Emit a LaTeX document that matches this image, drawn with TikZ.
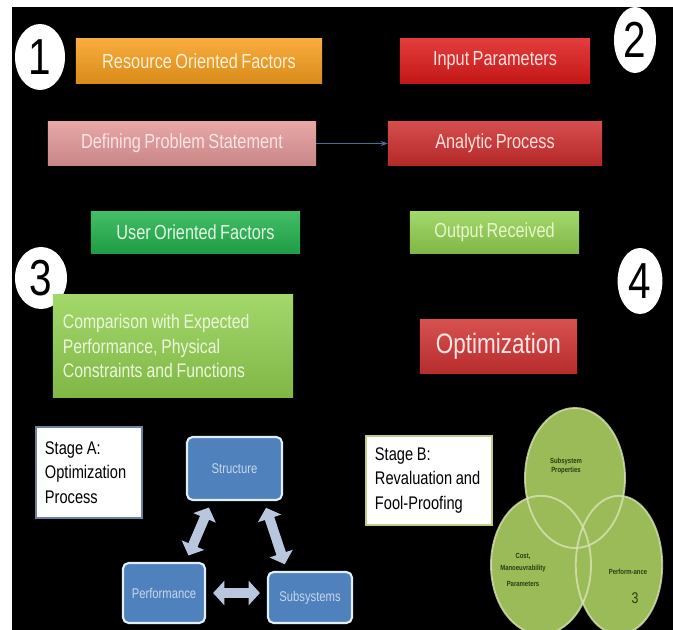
\documentclass[tikz,border=0pt]{standalone}
\usepackage{fontspec}
\setmainfont{Liberation Sans}
\newfontfamily\narrowfont[FakeStretch=0.8,WordSpace=0.75]{Liberation Sans}
\usetikzlibrary{shapes.geometric,arrows.meta}

\newcommand{\tightspace}{\spaceskip=0.2em plus 0.05em\relax}

\definecolor{resorange}{RGB}{246,158,28}
\definecolor{inred}{RGB}{222,26,26}
\definecolor{anared}{RGB}{206,46,46}
\definecolor{defpink}{RGB}{228,152,152}
\definecolor{usergreen}{RGB}{34,178,76}
\definecolor{litegreen}{RGB}{146,208,80}
\definecolor{optred}{RGB}{208,50,50}
\definecolor{boxblue}{RGB}{79,129,189}
\definecolor{boxedge}{RGB}{225,238,248}
\definecolor{boxtext}{RGB}{200,215,235}
\definecolor{arrowgray}{RGB}{184,198,222}
\definecolor{venngreen}{RGB}{155,187,89}
\definecolor{vennedge}{RGB}{215,228,180}
\definecolor{venntext}{RGB}{40,60,15}
\definecolor{linkblue}{RGB}{70,110,160}
\definecolor{stageaedge}{RGB}{110,130,160}
\definecolor{stagebedge}{RGB}{190,205,140}

\begin{document}
\begin{tikzpicture}[x=0.025cm,y=-0.025cm,
  colbar/.style={rectangle,inner sep=0pt,top color=#1!85!white,bottom color=#1!88!black,
    font=\narrowfont\fontsize{14.5}{17.5}\selectfont},
  numcirc/.style={ellipse,fill=white,inner sep=0pt,minimum height=1.65cm,
    font=\narrowfont\fontsize{36}{36}\selectfont},
  stagebox/.style={rectangle,fill=white,line width=1.5pt,align=left,inner ysep=0pt,
    inner xsep=0.225cm,font=\narrowfont\fontsize{13}{17.5}\selectfont},
  bluebox/.style={rectangle,rounded corners=4pt,fill=boxblue,draw=boxedge,line width=1.5pt,
    text=boxtext,font=\narrowfont\fontsize{10}{12}\selectfont},
  dblarrow/.style={arrowgray,line width=7pt,
    {Triangle[width=17pt,length=8pt]}-{Triangle[width=17pt,length=8pt]},
    shorten <=5pt,shorten >=5pt},
  vennlbl/.style={text=venntext,align=center,inner sep=0pt,
    font=\narrowfont\bfseries\fontsize{5.3}{6.3}\selectfont}]
  \useasboundingbox (0,0) rectangle (673,630);
  \fill[white] (0,0) rectangle (673,630);
  \fill[black] (12,7) rectangle (673,630);
  \clip (12,7) rectangle (673,630);

  \node[numcirc,minimum width=1.25cm] (one) at (40,57) {1};
  \node[numcirc,minimum width=1.05cm] (two) at (635,40) {2};
  \node[numcirc,minimum width=1.3cm,minimum height=1.55cm] (three) at (41,278) {3};
  \node[numcirc,minimum width=1.12cm] (four) at (640,281) {4};

  \node[colbar=resorange,text={rgb,255:red,255;green,240;blue,215},
    minimum width=6.15cm,minimum height=1.1cm] (resfac) at (199,61) {Resource Oriented Factors};
  \node[colbar=inred,text={rgb,255:red,255;green,225;blue,225},
    minimum width=4.75cm,minimum height=1.1cm] (inpar) at (495,61) {Input Parameters};

  \node[colbar=defpink,text={rgb,255:red,250;green,228;blue,228},
    minimum width=6.7cm,minimum height=1.075cm] (defprob) at (182,143.5) {Defining Problem Statement};
  \node[colbar=anared,text={rgb,255:red,255;green,225;blue,220},
    minimum width=5.35cm,minimum height=1.075cm] (anaproc) at (495,143.5) {Analytic Process};
  \draw[linkblue,line width=0.8pt,-{Stealth[length=5pt]}] (defprob) -- (anaproc);

  \node[colbar=usergreen,text={rgb,255:red,228;green,246;blue,228},
    minimum width=5.225cm,minimum height=1.025cm] (userfac) at (195.5,232.5) {User Oriented Factors};
  \node[colbar=litegreen,text={rgb,255:red,232;green,246;blue,205},
    minimum width=4.225cm,minimum height=1.025cm] (outrec) at (494.5,232.5) {Output Received};

  \node[colbar=litegreen,text={rgb,255:red,236;green,248;blue,218},align=left,text width=5.5cm,
    inner xsep=0.25cm,minimum height=2.55cm,font=\narrowfont\fontsize{14}{17.5}\selectfont]
    (compar) at (173,346) {\tightspace Comparison with Expected\\Performance, Physical\\Constraints and Functions};
  \node[colbar=optred,text={rgb,255:red,255;green,230;blue,230},
    minimum width=3.925cm,minimum height=1.325cm,font=\narrowfont\fontsize{20}{24}\selectfont]
    (optim) at (498.5,346.5) {Optimization};

  \node[stagebox,draw=stageaedge,text width=2.2cm,minimum height=2.275cm]
    (stagea) at (89,472.5) {\tightspace Stage A:\\Optimization\\Process};
  \node[bluebox,minimum width=2.375cm,minimum height=1.575cm] (struct) at (234.5,468.5) {Structure};
  \node[bluebox,minimum width=2.05cm,minimum height=1.5cm] (perf) at (164,593) {Performance};
  \node[bluebox,minimum width=2.1cm,minimum height=1.275cm] (subs) at (310,597.5) {Subsystems};
  \draw[dblarrow] (struct.-125) -- (perf.55);
  \draw[dblarrow] (struct.-48) -- (subs.131);
  \draw[dblarrow] (perf.east) -- (perf.east -| subs.west);

  \node[stagebox,draw=stagebedge,line width=2pt,text width=2.7cm,minimum height=2.225cm]
    (stageb) at (429,480.5) {\tightspace Stage B:\\Revaluation and\\Fool-Proofing};

  \fill[venngreen] (575,478) ellipse [x radius=1.25cm,y radius=1.75cm];
  \fill[venngreen] (541,565) ellipse [x radius=1.25cm,y radius=1.73cm];
  \fill[venngreen] (619,565) ellipse [x radius=1.08cm,y radius=1.73cm];
  \draw[vennedge,line width=1.3pt,opacity=0.8] (575,478) ellipse [x radius=1.25cm,y radius=1.75cm];
  \draw[vennedge,line width=1.3pt,opacity=0.8] (541,565) ellipse [x radius=1.25cm,y radius=1.73cm];
  \draw[vennedge,line width=1.3pt,opacity=0.8] (619,565) ellipse [x radius=1.08cm,y radius=1.73cm];
  \node[vennlbl] (subprop) at (566,466) {Subsystem\\Properties};
  \node[vennlbl] (costpar) at (523,570) {Cost,\\[2pt]Manoeuvrability\\[5pt]Parameters};
  \node[vennlbl] (perfvenn) at (628,572) {Perform-ance};
  \node[text=venntext,font=\narrowfont\fontsize{11}{11}\selectfont] (pagenum) at (635,598) {3};
\end{tikzpicture}
\end{document}
